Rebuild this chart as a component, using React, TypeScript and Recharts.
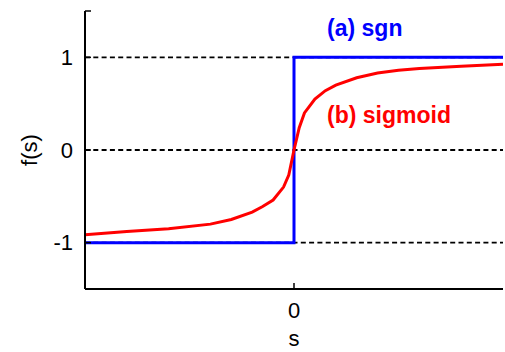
import { LineChart, Line, XAxis, YAxis, ReferenceLine, ReferenceDot } from 'recharts';

// sgn(s): step from -1 to 1 at s = 0
const SGN_S = [-10, 0, 0, 10];
const SGN_F = [-1, -1, 1, 1];

// sigmoid
const SIG_S = [-10, -8, -6, -4, -3, -2, -1.5, -1, -0.5, -0.25, 0, 0.25, 0.5, 1, 1.5, 2, 3, 4, 5, 6, 8, 10];
const SIG_F = [-0.915, -0.88, -0.85, -0.8, -0.75, -0.67, -0.61, -0.54, -0.4, -0.27, 0, 0.24, 0.4, 0.55, 0.64, 0.7, 0.78, 0.83, 0.86, 0.88, 0.905, 0.925];

const X_TICKS = [0];
const Y_TICKS = [-1.5, -1, 0, 1, 1.5];
const GRID_Y = [-1, 0, 1];

// text notes, anchored in data units (left edge, baseline)
const NOTES = [
  { s: 1.63, f: 1.23, text: '(a) sgn', color: '#0000ff' },
  { s: 1.63, f: 0.29, text: '(b) sigmoid', color: '#ff0000' },
];

const sgnData = SGN_S.map((s, i) => ({ s, f: SGN_F[i] }));
const sigData = SIG_S.map((s, i) => ({ s, f: SIG_F[i] }));

const FONT = '"Liberation Sans", Arial, sans-serif';

export default function App() {
  return (
    <div style={{ position: 'absolute', left: 0, top: 0, background: '#fff' }}>
      <LineChart width={505} height={352} margin={{ top: 11, right: 2, bottom: 0, left: 0 }}>
        <XAxis
          type="number"
          dataKey="s"
          domain={[-10, 10]}
          ticks={X_TICKS}
          allowDataOverflow
          height={63}
          axisLine={{ stroke: '#000', strokeWidth: 2 }}
          tickLine={{ stroke: '#000', strokeWidth: 1.5 }}
          tickSize={-6}
          tickMargin={19}
          tick={{ fontSize: 22, fill: '#000', fontFamily: FONT }}
          label={{
            content: ({ viewBox }: any) => (
              <text
                x={viewBox.x + viewBox.width / 2}
                y={viewBox.y + 57}
                textAnchor="middle"
                fontSize={22}
                fontFamily={FONT}
                fill="#000"
              >
                s
              </text>
            ),
          }}
        />
        <YAxis
          type="number"
          dataKey="f"
          domain={[-1.5, 1.5]}
          ticks={Y_TICKS}
          allowDataOverflow
          width={85}
          axisLine={{ stroke: '#000', strokeWidth: 2 }}
          tickLine={{ stroke: '#000', strokeWidth: 1.5 }}
          tickSize={-6}
          tickMargin={18}
          tickFormatter={(v: number) => (Math.abs(v) === 1.5 ? '' : String(v))}
          tick={{ fontSize: 22, fill: '#000', fontFamily: FONT }}
          label={{
            content: ({ viewBox }: any) => {
              const cx = 37;
              const cy = viewBox.y + viewBox.height / 2;
              return (
                <text
                  x={cx}
                  y={cy}
                  transform={`rotate(-90, ${cx}, ${cy})`}
                  textAnchor="middle"
                  fontSize={22}
                  fontFamily={FONT}
                  fill="#000"
                >
                  f(s)
                </text>
              );
            },
          }}
        />
        {GRID_Y.map((y) => (
          <ReferenceLine key={y} y={y} stroke="#000" strokeWidth={1.8} strokeDasharray="5 3.3" />
        ))}
        <Line
          data={sgnData}
          dataKey="f"
          type="linear"
          stroke="#0000ff"
          strokeWidth={3}
          dot={false}
          isAnimationActive={false}
        />
        <Line
          data={sigData}
          dataKey="f"
          type="linear"
          stroke="#ff0000"
          strokeWidth={3}
          dot={false}
          isAnimationActive={false}
        />
        {NOTES.map((n) => (
          <ReferenceDot
            key={n.text}
            x={n.s}
            y={n.f}
            r={1}
            fill="none"
            stroke="none"
            ifOverflow="visible"
            label={{
              content: ({ viewBox }: any) => (
                <text
                  x={viewBox.x}
                  y={viewBox.y + 1}
                  fontSize={23}
                  fontWeight="bold"
                  fontFamily={FONT}
                  fill={n.color}
                >
                  {n.text}
                </text>
              ),
            }}
          />
        ))}
      </LineChart>
    </div>
  );
}
